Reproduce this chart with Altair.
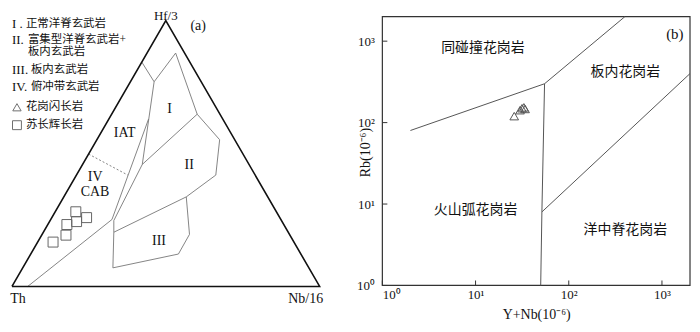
import altair as alt
import pandas as pd

SERIF = "Liberation Serif, Times New Roman, serif"
CJK = "Liberation Serif, Noto Sans CJK SC, sans-serif"

# ---------------- (a) Th - Hf/3 - Nb/16 ternary diagram (values in %) ----------------
frame_hf = [0, 100, 0, 0]
frame_nb = [0, 0, 100, 0]

field_line = ["L1", "L1",
              "L2", "L2", "L2", "L2", "L2",
              "L3", "L3", "L3", "L3", "L3",
              "L4", "L4",
              "L5", "L5", "L5",
              "L6", "L6", "L6",
              "L7", "L7", "L7", "L7"]
field_hf = [84.4, 77.0,
            77.0, 87.8, 64.8, 55.2, 41.9,
            77.0, 45.9, 24.8, 20.4, 7.0,
            45.9, 64.8,
            63.0, 25.2, 0.0,
            20.4, 33.7, 41.9,
            33.7, 19.6, 12.2, 7.0]
field_nb = [0.0, 7.7,
            7.7, 9.3, 27.8, 39.9, 45.3,
            7.7, 19.4, 20.7, 22.9, 29.3,
            19.4, 27.8,
            12.9, 19.9, 5.1,
            22.9, 39.8, 45.3,
            39.8, 47.9, 48.0, 29.3]

dash_hf = [49.8, 41.9]
dash_nb = [0.0, 16.7]

norite_hf = [28.1, 25.9, 24.4, 23.3, 19.3, 16.7]
norite_nb = [6.7, 11.3, 8.8, 6.2, 7.9, 5.0]

field_labels = ["I", "II", "III", "IAT", "IV", "CAB"]
label_hf = [66.7, 45.6, 17.0, 57.8, 41.1, 35.6]
label_nb = [17.9, 34.8, 39.3, 7.7, 6.5, 9.2]

# ---------------- (b) Rb vs Y+Nb (Pearce et al., 1984) ----------------
pearce_id = ["a", "a", "b", "b", "c", "c", "c", "d", "d"]
pearce_x = [2, 55, 55, 400, 55, 51.5, 50, 51.5, 2000]
pearce_y = [80, 300, 300, 2000, 300, 8, 1, 8, 400]

gd_x = [26, 30, 31.5, 33, 34]
gd_y = [120, 142, 150, 154, 147]

region_names = ["同碰撞花岗岩", "板内花岗岩", "火山弧花岗岩", "洋中脊花岗岩"]
region_x = [12, 405, 10, 405]
region_y = [835, 415, 8.5, 4.8]

tick_vals = [1, 10, 100, 1000]
axis_min, axis_max = 1, 2000


def tern(hf, nb, **extra):
    df = pd.DataFrame({"hf": hf, "nb": nb, **extra})
    df["th"] = 100 - df["hf"] - df["nb"]
    df["u"] = (df["nb"] + df["hf"] / 2) / 100
    df["v"] = df["hf"] / 100
    df["k"] = range(len(df))
    return df


LW, LH = 340, 300
BASE, TH = 279, 267  # local pixel row of the base line, triangle height
xs = alt.Scale(domain=[-1 / 309, (LW - 1) / 309], nice=False, zero=False)
ys = alt.Scale(domain=[-(LH - BASE) / TH, BASE / TH], nice=False, zero=False)
XU = alt.X("u:Q", scale=xs, axis=None)
YV = alt.Y("v:Q", scale=ys, axis=None)

fields = alt.Chart(tern(field_hf, field_nb, line=field_line)).mark_line(
    color="#777777", strokeWidth=0.9
).encode(x=XU, y=YV, detail="line:N", order="k:Q")

dashed = alt.Chart(tern(dash_hf, dash_nb)).mark_line(
    color="#777777", strokeWidth=0.9, strokeDash=[2, 2]
).encode(x=XU, y=YV, order="k:Q")

frame = alt.Chart(tern(frame_hf, frame_nb)).mark_line(
    color="#111111", strokeWidth=1.6, strokeJoin="miter"
).encode(x=XU, y=YV, order="k:Q")

squares = alt.Chart(tern(norite_hf, norite_nb)).mark_point(
    shape="square", size=100, filled=False, color="#666666", strokeWidth=1, opacity=1
).encode(x=XU, y=YV)

flabels = alt.Chart(tern(label_hf, label_nb, t=field_labels)).mark_text(
    font=SERIF, fontSize=14, color="#111111"
).encode(x=XU, y=YV, text="t:N")

left_layers = [fields, dashed, frame, squares, flabels]


def ptext(txt, x, y, size=14, align="center", baseline="middle", font=SERIF):
    return alt.Chart(pd.DataFrame({"t": [txt]})).mark_text(
        font=font, fontSize=size, align=align, baseline=baseline, color="#111111"
    ).encode(x=alt.value(x), y=alt.value(y), text="t:N")


left_layers += [
    ptext("Hf/3", 155.5, 1, 13, baseline="top"),
    ptext("Th", 7, 292, 14),
    ptext("Nb/16", 296, 292, 14),
    ptext("(a)", 188, 17, 14),
]

legend_rows = [
    ("I .", "正常洋脊玄武岩", 15, 15),
    ("II.", "富集型洋脊玄武岩+", 17, 31),
    ("", "板内玄武岩", 17, 44),
    ("III.", "板内玄武岩", 20, 62),
    ("IV.", "俯冲带玄武岩", 20, 79),
    ("", "花岗闪长岩", 15, 99),
    ("", "苏长辉长岩", 15, 117),
]
for rom, zh, zx, yy in legend_rows:
    if rom:
        left_layers.append(ptext(rom, 1, yy, 13, align="left"))
    left_layers.append(ptext(zh, zx, yy, 11.5, align="left", font=CJK))

left_layers.append(
    alt.Chart(pd.DataFrame({"a": [0]})).mark_point(
        shape="triangle-up", size=70, filled=False, color="#333333", strokeWidth=1
    ).encode(x=alt.value(6), y=alt.value(99))
)
left_layers.append(
    alt.Chart(pd.DataFrame({"a": [0]})).mark_point(
        shape="square", size=80, filled=False, color="#333333", strokeWidth=1
    ).encode(x=alt.value(6), y=alt.value(117))
)

left = alt.layer(*left_layers).properties(
    width=LW, height=LH, view=alt.ViewBackground(strokeWidth=0)
)

# ---------------- right panel ----------------
RW, RH = 309, 278          # plot area; the framed box starts 8px below its top
YTOP = 2000 * 10 ** (8 / (270 / 3.30103))
label_expr = "'10' + ['⁰','¹','²','³'][round(log(datum.value)/LN10)]"
xr = alt.Scale(type="log", domain=[axis_min, axis_max], nice=False)
yr = alt.Scale(type="log", domain=[axis_min, YTOP], nice=False)
xaxis = alt.Axis(values=tick_vals, labelExpr=label_expr, ticks=False, tickSize=0,
                 domain=False, grid=False, labelPadding=3, labelFontSize=13,
                 labelFont=SERIF, labelColor="#111111", title="Y+Nb(10⁻⁶)",
                 titleFont=SERIF, titleFontSize=14, titleFontWeight="normal",
                 titleColor="#111111", titlePadding=6)
yaxis = alt.Axis(values=tick_vals, labelExpr=label_expr, ticks=False, tickSize=0,
                 domain=False, grid=False, labelPadding=8, labelFontSize=13,
                 labelFont=SERIF, labelColor="#111111", title="Rb(10⁻⁶)",
                 titleFont=SERIF, titleFontSize=14, titleFontWeight="normal",
                 titleColor="#111111", titleX=-17, titleY=144, titleAngle=270,
                 titleAlign="center", titleBaseline="middle")
XR = alt.X("x:Q", scale=xr, axis=xaxis)
YR = alt.Y("y:Q", scale=yr, axis=yaxis)

box = alt.Chart(pd.DataFrame({"x": [axis_min], "x2": [axis_max],
                              "y": [axis_min], "y2": [axis_max]})).mark_rect(
    fillOpacity=0, stroke="#333333", strokeWidth=1.2
).encode(x=XR, x2="x2:Q", y=YR, y2="y2:Q")

pdf = pd.DataFrame({"id": pearce_id, "x": pearce_x, "y": pearce_y})
pdf["k"] = range(len(pdf))
plines = alt.Chart(pdf).mark_line(color="#555555", strokeWidth=1).encode(
    x=XR, y=YR, detail="id:N", order="k:Q")

gd = alt.Chart(pd.DataFrame({"x": gd_x, "y": gd_y})).mark_point(
    shape="triangle-up", size=75, filled=False, color="#555555", strokeWidth=1, opacity=1
).encode(x=XR, y=YR)

rlab = alt.Chart(pd.DataFrame({"x": region_x, "y": region_y, "t": region_names})).mark_text(
    font=CJK, fontSize=14, color="#111111"
).encode(x=XR, y=YR, text="t:N")

blab = alt.Chart(pd.DataFrame({"x": [1375], "y": [1240], "t": ["(b)"]})).mark_text(
    font=SERIF, fontSize=15, color="#111111"
).encode(x=XR, y=YR, text="t:N")

xt = alt.Chart(pd.DataFrame({"x": tick_vals})).mark_rule(color="#333333", strokeWidth=1).encode(
    x=XR, y=alt.value(RH), y2=alt.value(RH - 5))
yt = alt.Chart(pd.DataFrame({"y": tick_vals})).mark_rule(color="#333333", strokeWidth=1).encode(
    y=YR, x=alt.value(0), x2=alt.value(5))

right = alt.layer(box, plines, gd, rlab, blab, xt, yt).properties(
    width=RW, height=RH, view=alt.ViewBackground(strokeWidth=0)
)

chart = alt.hconcat(left, right, spacing=33, bounds="flush").properties(
    padding=0
).configure_view(strokeWidth=0)

chart.save("out.html", embed_options={"renderer": "svg", "actions": False})
